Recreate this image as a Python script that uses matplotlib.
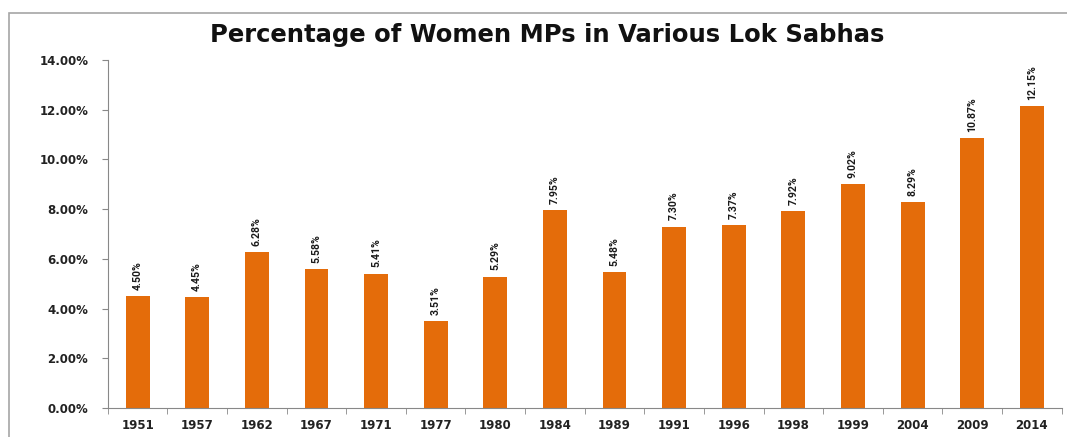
import matplotlib
matplotlib.use("Agg")
import matplotlib.pyplot as plt
from matplotlib.patches import Rectangle

# Data
years = ["1951", "1957", "1962", "1967", "1971", "1977", "1980", "1984",
         "1989", "1991", "1996", "1998", "1999", "2004", "2009", "2014"]
women_pct = [4.50, 4.45, 6.28, 5.58, 5.41, 3.51, 5.29, 7.95,
             5.48, 7.30, 7.37, 7.92, 9.02, 8.29, 10.87, 12.15]
y_ticks = [0, 2, 4, 6, 8, 10, 12, 14]

bar_color = "#E46C0A"

fig = plt.figure(figsize=(10.67, 4.37), dpi=100)
ax = fig.add_axes([0.101, 0.066, 0.894, 0.797])

# outer chart frame
fig.patches.append(Rectangle((9 / 1067, -0.1), 1.2, 1 - 13 / 437 + 0.1,
                             transform=fig.transFigure, fill=False,
                             edgecolor="#A6A6A6", linewidth=1.2))

x = range(len(years))
ax.bar(x, women_pct, width=0.4, color=bar_color)

# rotated value labels above each bar
for xi, v in zip(x, women_pct):
    ax.text(xi, v + 0.25, f"{v:.2f}%", rotation=90, ha="center", va="bottom",
            fontsize=7.6, fontweight="bold", family="Roboto",
            color="#1a1a1a")

ax.set_xlim(-0.5, len(years) - 0.5)
ax.set_ylim(0, 14)
ax.set_yticks(y_ticks)
ax.set_yticklabels([f"{t:.2f}%" for t in y_ticks], fontsize=8.5,
                   fontweight="bold", color="#222222")
ax.set_xticks(list(x))
ax.set_xticklabels(years, fontsize=8.5, fontweight="bold", color="#222222")
ax.set_xticks([i + 0.5 for i in range(-1, len(years))], minor=True)
ax.tick_params(axis="x", which="major", length=0, pad=8)
ax.tick_params(axis="x", which="minor", length=4, color="#888888")
ax.tick_params(axis="y", length=4, color="#888888", pad=10)

for side in ["top", "right"]:
    ax.spines[side].set_visible(False)
for side in ["left", "bottom"]:
    ax.spines[side].set_color("#888888")

fig.text(0.513, 0.92, "Percentage of Women MPs in Various Lok Sabhas",
         ha="center", va="center", fontsize=17.5, fontweight="bold",
         family="DejaVu Sans", color="#111111")

fig.savefig("out.png", dpi=100)
